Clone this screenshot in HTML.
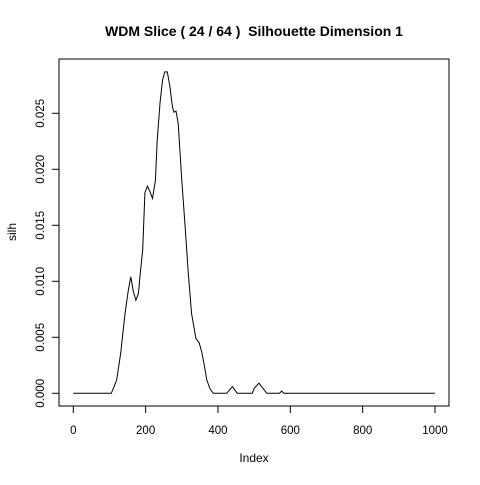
<!DOCTYPE html>
<html><head><meta charset="utf-8"><style>
body{margin:0;background:#fff}
svg text{font-family:"Liberation Sans",sans-serif;fill:#000}
</style></head><body>
<svg id="c" width="480" height="480" xmlns="http://www.w3.org/2000/svg">
<rect width="480" height="480" fill="#fff"/>
<text x="254" y="36" text-anchor="middle" font-size="14" font-weight="bold" style="white-space:pre">WDM Slice ( 24 / 64 )  Silhouette Dimension 1</text>
<rect x="59" y="59" width="390" height="347" fill="none" stroke="#000" stroke-width="1"/>
<g id="xax"></g>
<g id="yax"></g>
<text x="254" y="462" text-anchor="middle" font-size="12">Index</text>
<text transform="translate(16,232) rotate(-90)" text-anchor="middle" font-size="12">silh</text>
<path id="ln" fill="none" stroke="#000" stroke-width="1"/>
</svg>
<script>
const xTicks=[0,200,400,600,800,1000];
const yTicks=[0,0.005,0.010,0.015,0.020,0.025];
const yTickLabels=["0.000","0.005","0.010","0.015","0.020","0.025"];
const idx=[0,105,120,131,143,152,159,166,173,180,186,192,198,205,212,219,227,232,240,247,253,260,267,274,278,284,290,300,309,318,327,339,348,355,361,369,378,387,424,440,453,495,500,513,535,570,576,582,1000];
const silh=[0,0,0.0012,0.0036,0.0071,0.0092,0.0104,0.0091,0.0083,0.0089,0.011,0.0128,0.0179,0.0185,0.018,0.0174,0.019,0.0226,0.026,0.028,0.0287,0.0287,0.0274,0.0256,0.0251,0.0252,0.0241,0.019,0.0149,0.0107,0.0071,0.0049,0.0045,0.0037,0.0027,0.0012,0.0004,0,0,0.0006,0,0,0.00045,0.0009,0,0,0.0002,0,0];
const sx=v=>73.3+v*0.3617;
const sy=v=>393.3-v/0.005*56;
const NS="http://www.w3.org/2000/svg";
const xa=document.getElementById('xax'),ya=document.getElementById('yax');
function mk(t,a,p){const e=document.createElementNS(NS,t);for(const k in a)e.setAttribute(k,a[k]);p.appendChild(e);return e;}
let l=mk('line',{x1:sx(0),x2:sx(1000),y1:406,y2:406,stroke:'#000'},xa);


xTicks.forEach(v=>{
 const t=mk('line',{x1:sx(v),x2:sx(v),y1:406,y2:413,stroke:'#000'},xa);
 
 
 const tx=mk('text',{x:sx(v),y:434,'text-anchor':'middle','font-size':'11.5'},xa);
 tx.textContent=v;
 
 
});
l=mk('line',{x1:59,x2:59,y1:sy(0),y2:sy(0.025),stroke:'#000'},ya);


yTicks.forEach((v,i)=>{
 const t=mk('line',{x1:52,x2:59,y1:sy(v),y2:sy(v),stroke:'#000'},ya);
 
 
 const tx=mk('text',{transform:`translate(44,${sy(v)}) rotate(-90)`,'text-anchor':'middle','font-size':'11.5'},ya);
 tx.textContent=yTickLabels[i];
 
 
});
document.getElementById('ln').setAttribute('d',idx.map((v,i)=>(i?'L':'M')+sx(v).toFixed(1)+','+sy(silh[i]).toFixed(1)).join(''));
</script>
</body></html>
